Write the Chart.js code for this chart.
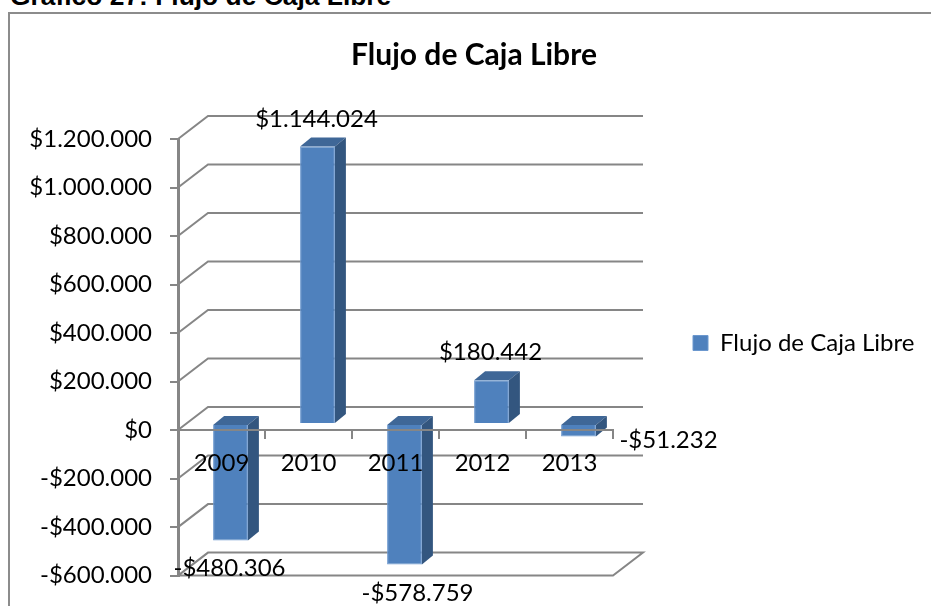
<!DOCTYPE html>
<html lang="es">
<head>
<meta charset="utf-8">
<title>Flujo de Caja Libre</title>
<script src="https://cdn.jsdelivr.net/npm/chart.js@4/dist/chart.umd.min.js"></script>
<style>
html,body{margin:0;padding:0;background:#fff;width:931px;height:606px;overflow:hidden}
#heading{position:absolute;left:10px;top:-17px;font:bold 26.4px/26px "Liberation Sans",Arial,sans-serif;color:#000;white-space:nowrap}
#frame{position:absolute;left:8px;top:12px;width:923px;height:594px;box-sizing:border-box;border-left:2px solid #8c8c8c;border-top:2px solid #8c8c8c}
#wrap{position:absolute;left:9px;top:13px;width:930px;height:595px}
</style>
</head>
<body>
<div id="heading">Gráfico 27: Flujo de Caja Libre</div>
<div id="frame"></div>
<div id="wrap"><canvas id="c"></canvas></div>
<script>
const categories = ['2009', '2010', '2011', '2012', '2013'];
const seriesName = 'Flujo de Caja Libre';
const flujoValues = [-480306, 1144024, -578759, 180442, -51232];
const axisMin = -600000;
const axisMax = 1200000;
const axisStep = 200000;

const FONT = 'Lato, Carlito, sans-serif';
const FONT_SIZE = 24;
const TXT = '#000000';
const LINE = '#868686';
const money = v => (v < 0 ? '-' : '') + '$' + Math.abs(v).toString().replace(/\B(?=(\d{3})+(?!\d))/g, '.');

const wall = {dx: 30, dy: -23};
const barShift = {dx: 9, dy: -6};
const barDepth = {dx: 11, dy: -9};
const labelGap = 28;
const labelNudge = [[-1, 0], [-1, 1], [13, 1], [-1, 0], [90, -24]];

const box3d = {
  id: 'box3d',
  afterLayout(chart) {
    const l = chart.legend;
    l.left = 675; l.right = 930; l.top = 309; l.bottom = 370;
    l.width = l.right - l.left; l.height = l.bottom - l.top;
    const t = chart.titleBlock;
    t.left = 0; t.right = 930; t.width = 930;
  },
  beforeDatasetsDraw(chart) {
    const {ctx, chartArea: a, scales: {y}} = chart;
    ctx.save();
    ctx.strokeStyle = LINE;
    ctx.lineWidth = 2;
    y.ticks.forEach(t => {
      const py = y.getPixelForValue(t.value);
      ctx.beginPath();
      ctx.moveTo(a.left, py);
      ctx.lineTo(a.left + wall.dx, py + wall.dy);
      ctx.lineTo(a.right + wall.dx, py + wall.dy);
      if (t.value === axisMin) {
        ctx.lineTo(a.right, py);
        ctx.lineTo(a.left, py);
      }
      ctx.stroke();
    });
    ctx.restore();
    ctx.save();
    ctx.translate(barShift.dx, barShift.dy);
    const meta = chart.getDatasetMeta(0);
    meta.data.forEach(b => {
      const p = b.getProps(['x', 'y', 'base', 'width']);
      const L = p.x - p.width / 2, R = p.x + p.width / 2;
      const T = Math.min(p.y, p.base), B = Math.max(p.y, p.base);
      ctx.fillStyle = '#3F6797';
      ctx.beginPath();
      ctx.moveTo(L, T); ctx.lineTo(L + barDepth.dx, T + barDepth.dy);
      ctx.lineTo(R + barDepth.dx, T + barDepth.dy); ctx.lineTo(R, T);
      ctx.closePath(); ctx.fill();
      ctx.fillStyle = '#33567F';
      ctx.beginPath();
      ctx.moveTo(R, T); ctx.lineTo(R + barDepth.dx, T + barDepth.dy);
      ctx.lineTo(R + barDepth.dx, B + barDepth.dy); ctx.lineTo(R, B);
      ctx.closePath(); ctx.fill();
    });
  },
  afterDatasetsDraw(chart) {
    const {ctx} = chart;
    ctx.restore();
    ctx.save();
    ctx.font = FONT_SIZE + 'px ' + FONT;
    ctx.fillStyle = TXT;
    ctx.textAlign = 'center';
    ctx.textBaseline = 'middle';
    chart.getDatasetMeta(0).data.forEach((b, i) => {
      const p = b.getProps(['x', 'y']);
      const v = flujoValues[i];
      const yy = p.y + barShift.dy + (v < 0 ? labelGap : -labelGap) + labelNudge[i][1];
      ctx.fillText(money(v), p.x + barShift.dx + labelNudge[i][0], yy);
    });
    ctx.restore();
  }
};

new Chart(document.getElementById('c'), {
  type: 'bar',
  data: {
    labels: categories,
    datasets: [{
      label: seriesName,
      data: flujoValues,
      backgroundColor: '#4F81BD',
      borderColor: '#6C98CE',
      borderWidth: 1,
      barPercentage: 0.4,
      categoryPercentage: 1
    }]
  },
  options: {
    responsive: true,
    maintainAspectRatio: false,
    animation: false,
    layout: {padding: {left: 0, right: 326, top: 0, bottom: 28}},
    plugins: {
      tooltip: {enabled: false},
      title: {
        display: true,
        text: seriesName,
        color: TXT,
        font: {family: FONT, size: 30, weight: 'bold', lineHeight: 1.2},
        padding: {top: 24, bottom: 66}
      },
      legend: {
        display: true,
        position: 'chartArea',
        align: 'start',
        labels: {color: TXT, font: {family: FONT, size: FONT_SIZE}, boxWidth: 15, boxHeight: 15, padding: 9}
      }
    },
    scales: {
      x: {
        position: {y: 0},
        afterFit: s => { s.height = 0; },
        grid: {drawOnChartArea: false, color: LINE, lineWidth: 2, tickLength: 8, z: 1},
        border: {color: LINE, width: 2, z: 1},
        ticks: {color: TXT, font: {family: FONT, size: FONT_SIZE}, padding: 11, maxRotation: 0, z: 2}
      },
      y: {
        min: axisMin,
        max: axisMax,
        afterFit: s => { s.width = 169; },
        grid: {drawOnChartArea: false, color: LINE, lineWidth: 2, tickLength: 8},
        border: {color: LINE, width: 3},
        ticks: {stepSize: axisStep, color: TXT, font: {family: FONT, size: FONT_SIZE}, padding: 18, callback: v => money(v)}
      }
    }
  },
  plugins: [box3d]
});
</script>
</body>
</html>
